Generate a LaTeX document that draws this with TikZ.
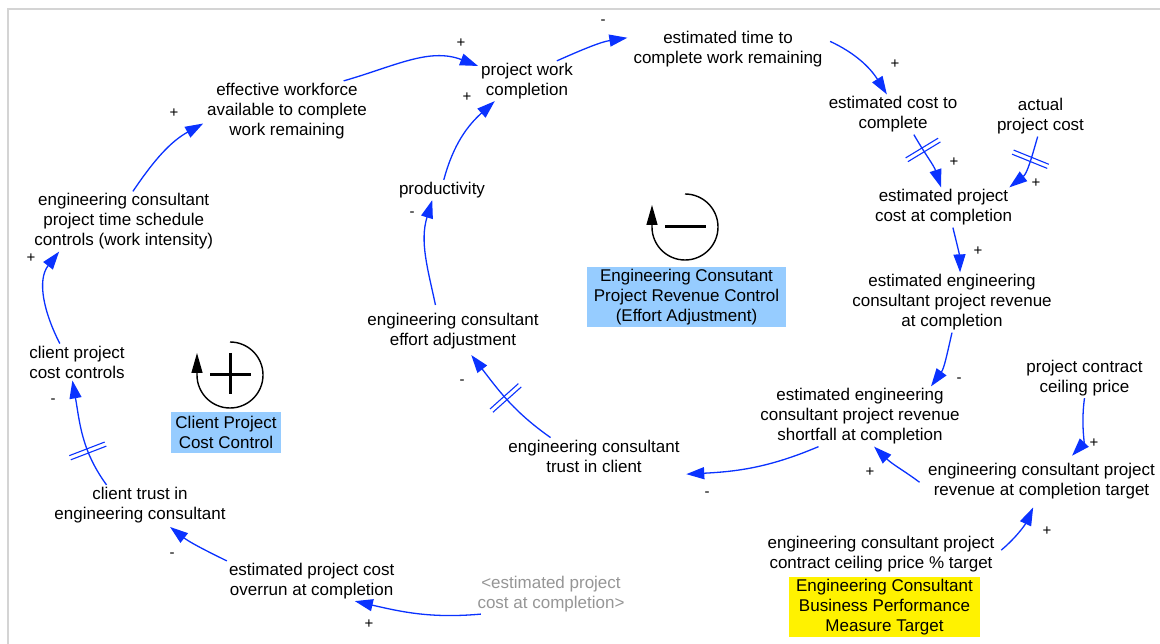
\documentclass[tikz,border=0pt]{standalone}
\usepackage{fontspec}
\setmainfont{Liberation Sans}
\usetikzlibrary{arrows.meta,decorations.markings}
\definecolor{linkblue}{RGB}{10,50,255}
\definecolor{boxblue}{RGB}{150,204,255}
\definecolor{framegray}{RGB}{212,212,212}
\definecolor{ghostgray}{RGB}{150,150,150}
\begin{document}
\begin{tikzpicture}[x=1pt,y=1pt,
  var/.style={align=center,inner sep=2pt,font=\fontsize{17}{20}\selectfont},
  ghostvar/.style={var,text=ghostgray},
  sign/.style={inner sep=0pt,font=\fontsize{15}{17}\selectfont},
  namebox/.style={align=center,inner sep=0pt,font=\fontsize{17}{20}\selectfont},
  link/.style={draw=linkblue,line width=1.3pt,-{Triangle[length=18pt,width=12pt]}},
  delay/.style={postaction={decorate,decoration={markings,
      mark=at position #1 with {\draw[-,shorten <=0pt,shorten >=0pt,linkblue,line width=1.1pt]
        (-2.2pt,-19pt)--(-2.2pt,19pt) (2.2pt,-19pt)--(2.2pt,19pt);}}}},
  loopsym/.style={line width=1.4pt,-{Triangle[length=20pt,width=11pt]}},
  loopsign/.style={line width=3pt},
]
\useasboundingbox (0,0) rectangle (1160,-644);
\fill[white] (0,0) rectangle (1160,-644);
% frame
\draw[framegray,line width=1.5pt] (8,-644) -- (8,-9) -- (1160,-9);

% variables
\node[var] (ew) at (287,-111) {effective workforce\\available to complete\\work remaining};
\node[var] (pwc) at (527,-81) {project work\\completion};
\node[var] (esttime) at (728,-49) {estimated time to\\complete work remaining};
\node[var] (estcc) at (893,-114.5) {estimated cost to\\complete};
\node[var] (actual) at (1040.5,-116.5) {actual\\project cost};
\node[var] (estpcost) at (943.5,-207.5) {estimated project\\cost at completion};
\node[var] (estrev) at (952,-302.5) {estimated engineering\\consultant project revenue\\at completion};
\node[var] (shortfall) at (860,-416.5) {estimated engineering\\consultant project revenue\\shortfall at completion};
\node[var] (ceiling) at (1084.5,-378) {project contract\\ceiling price};
\node[var] (revtarget) at (1041.5,-481) {engineering consultant project\\revenue at completion target};
\node[var] (pcttarget) at (881,-554) {engineering consultant project\\contract ceiling price \% target};
\node[var] (trustc) at (594,-456) {engineering consultant\\trust in client};
\node[var] (effadj) at (453,-331) {engineering consultant\\effort adjustment};
\node[var] (prod) at (442,-190) {productivity};
\node[var] (tsched) at (123.7,-221.5) {engineering consultant\\project time schedule\\controls (work intensity)};
\node[var] (cpcc) at (77,-362) {client project\\cost controls};
\node[var] (ctrust) at (140,-505) {client trust in\\engineering consultant};
\node[var] (overrun) at (311.7,-581) {estimated project cost\\overrun at completion};
\node[ghostvar] (ghost) at (551,-594) {<estimated project\\cost at completion>};

% loop names
\node[namebox,fill=boxblue,minimum width=199pt,minimum height=60pt] (rbox) at (686.5,-297)
  {Engineering Consutant\\Project Revenue Control\\(Effort Adjustment)};
\node[namebox,fill=boxblue,minimum width=110pt,minimum height=41pt] (cbox) at (226,-432.5)
  {Client Project\\Cost Control};
\node[namebox,fill=yellow,minimum width=191pt,minimum height=60pt] (ybox) at (884.5,-607)
  {Engineering Consultant\\Business Performance\\Measure Target};

% loop symbols
\draw[loopsym] (230,-342) arc[start angle=90,end angle=-180,radius=33] -- (197,-353);
\draw[loopsign] (210,-375) -- (251,-375) (230,-353) -- (230,-394);
\draw[loopsym] (685,-194) arc[start angle=90,end angle=-180,radius=33] -- (652,-205);
\draw[loopsign] (665,-227) -- (706,-227);

% causal links
\draw[link,shorten >=1pt] (ew.28) to[out=16,in=159] (pwc.163);
\draw[link] (prod.80) to[out=75,in=222] (pwc.212);
\draw[link,shorten <=6pt] (effadj.129) to[out=102,in=253] (prod.226);
\draw[link,shorten >=5pt,delay=0.5] (trustc.157) to[out=145,in=308] (effadj.307);
\draw[link,shorten >=5.5pt] (shortfall.216) to[out=203,in=3] (trustc.-12);
\draw[link,shorten <=8pt] (revtarget.183) to[out=143,in=316] (shortfall.295);
\draw[link,shorten <=6pt,shorten >=7pt] (pcttarget.east) to[out=40,in=245] (revtarget.255);
\draw[link,shorten >=7pt] (ceiling.south) to[out=262,in=47] (revtarget.38);
\draw[link] (estrev.south) to[out=257,in=54] (shortfall.23);
\draw[link] (estpcost.295) to[out=284,in=92] (estrev.75);
\draw[link,delay=0.3] (estcc.316) to[out=300,in=108] (estpcost.97);
\draw[link,delay=0.4] (actual.262) to[out=254,in=38] (estpcost.17);
\draw[link,shorten <=6pt] (esttime.6) to[out=-25,in=122] (estcc.107);
\draw[link,shorten >=4pt] (pwc.34) to[out=24,in=189] (esttime.173);
\draw[link,shorten >=2pt] (tsched.73) to[out=56,in=209] (ew.188);
\draw[link] (cpcc.133) to[out=117,in=232] (tsched.205);
\draw[link,delay=0.35] (ctrust.149) to[out=126,in=280] (cpcc.256);
\draw[link,shorten >=3pt] (overrun.north west) to[out=154,in=322] (ctrust.324);
\draw[link] (ghost.196) to[out=185,in=347] (overrun.335);

% polarities
\node[sign] (p1) at (461,-43) {+};
\node[sign] (p2) at (467,-97) {+};
\node[sign] (p3) at (412,-214) {-};
\node[sign] (p4) at (462,-382) {-};
\node[sign] (p5) at (707,-494) {-};
\node[sign] (p6) at (870,-472) {+};
\node[sign] (p7) at (1047,-531) {+};
\node[sign] (p8) at (1094,-443) {+};
\node[sign] (p9) at (959,-380) {-};
\node[sign] (p10) at (978,-251) {+};
\node[sign] (p11) at (954,-162) {+};
\node[sign] (p12) at (1036,-183) {+};
\node[sign] (p13) at (895,-64) {+};
\node[sign] (p14) at (603,-22) {-};
\node[sign] (p15) at (174,-113) {+};
\node[sign] (p16) at (31,-258) {+};
\node[sign] (p17) at (53,-401) {-};
\node[sign] (p18) at (172,-555) {-};
\node[sign] (p19) at (369,-624) {+};
\end{tikzpicture}
\end{document}
